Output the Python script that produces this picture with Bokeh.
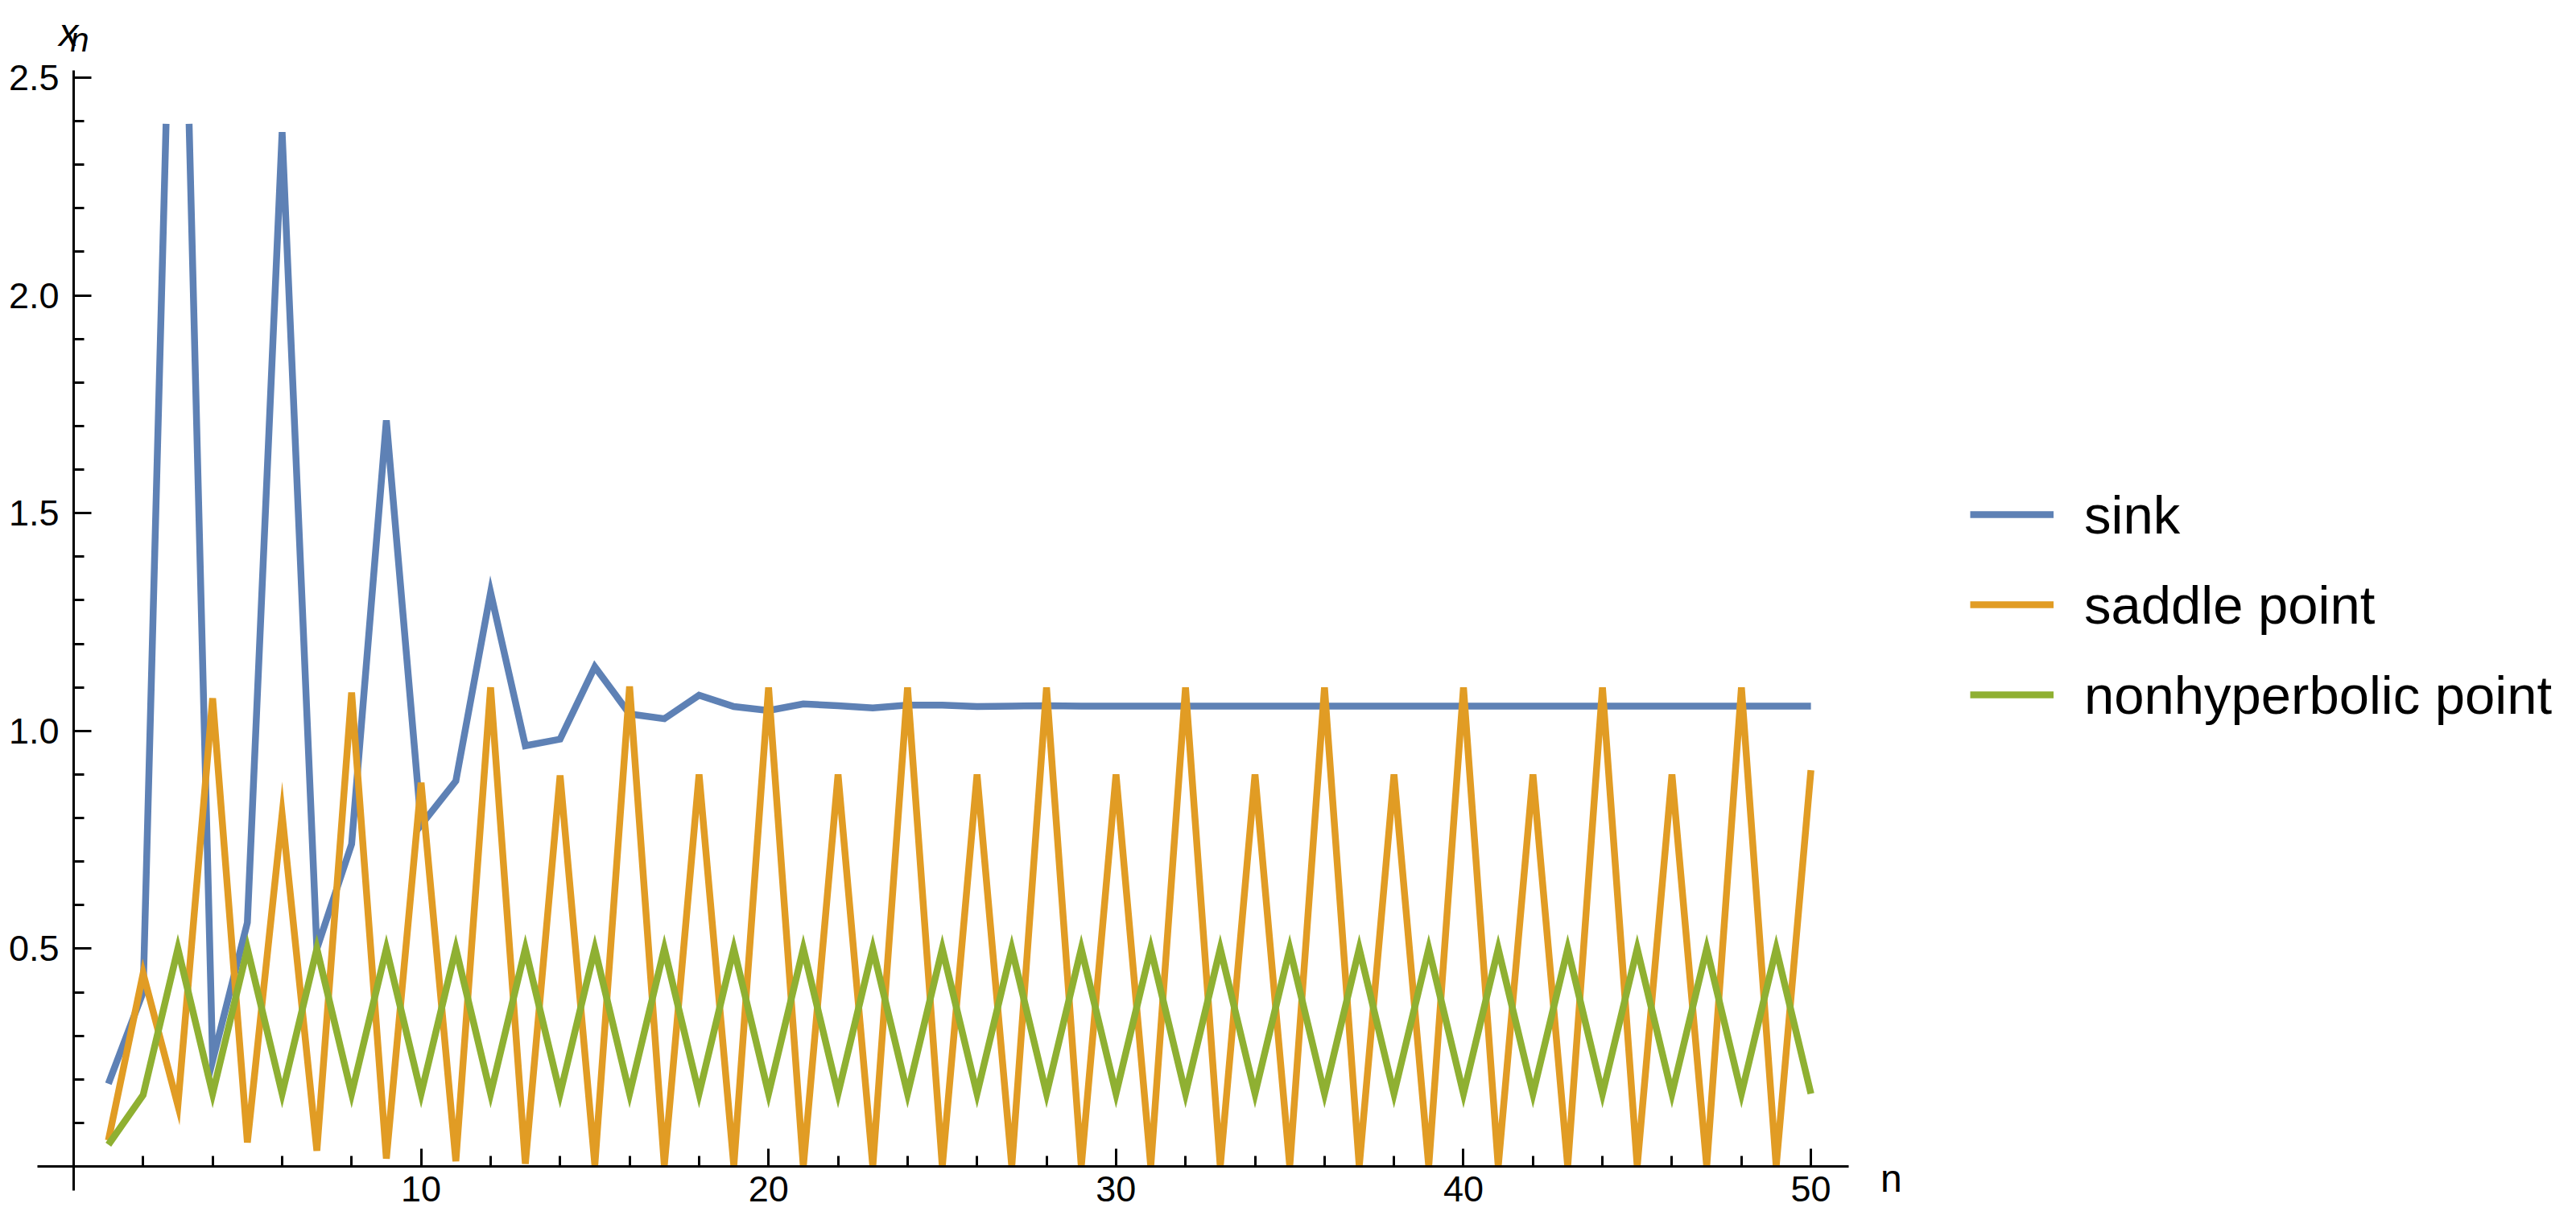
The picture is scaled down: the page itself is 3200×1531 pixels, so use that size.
import math
from bokeh.plotting import figure
from bokeh.models import (LinearAxis, FixedTicker, PrintfTickFormatter, Legend,
                          LegendItem, Range1d, Label)
from bokeh.embed import file_html
from bokeh.resources import INLINE

# ---------------- data ----------------
n_values = list(range(1, 51))

sink = [0.19, 0.40, 3.42, 0.243, 0.56, 2.375, 0.50, 0.74, 1.713, 0.784,
        0.885, 1.318, 0.966, 0.981, 1.147, 1.039, 1.028, 1.082, 1.056, 1.047,
        1.062, 1.058, 1.053, 1.059, 1.059, 1.056, 1.057, 1.058, 1.057, 1.057,
        1.057, 1.057, 1.057, 1.057, 1.057, 1.057, 1.057, 1.057, 1.057, 1.057,
        1.057, 1.057, 1.057, 1.057, 1.057, 1.057, 1.057, 1.057, 1.057, 1.057]

saddle_point = [0.06, 0.443, 0.14, 1.075, 0.055, 0.808, 0.036, 1.088, 0.018, 0.881,
                0.012, 1.10, 0.006, 0.898, 0.003, 1.102, 0.002, 0.90, 0.001, 1.10,
                0.0, 0.90, 0.0, 1.10, 0.0, 0.90, 0.0, 1.10, 0.0, 0.90,
                0.0, 1.10, 0.0, 0.90, 0.0, 1.10, 0.0, 0.90, 0.0, 1.10,
                0.0, 0.90, 0.0, 1.10, 0.0, 0.90, 0.0, 1.10, 0.0, 0.91]

nonhyperbolic_point = [0.05, 0.164, 0.5, 0.167, 0.5, 0.167, 0.5, 0.167, 0.5, 0.167,
                       0.5, 0.167, 0.5, 0.167, 0.5, 0.167, 0.5, 0.167, 0.5, 0.167,
                       0.5, 0.167, 0.5, 0.167, 0.5, 0.167, 0.5, 0.167, 0.5, 0.167,
                       0.5, 0.167, 0.5, 0.167, 0.5, 0.167, 0.5, 0.167, 0.5, 0.167,
                       0.5, 0.167, 0.5, 0.167, 0.5, 0.167, 0.5, 0.167, 0.5, 0.167]

series_labels = ["sink", "saddle point", "nonhyperbolic point"]
series_colors = ["#5E81B5", "#E19C24", "#8FB032"]

x_major_ticks = [10, 20, 30, 40, 50]
x_minor_ticks = [2, 4, 6, 8, 12, 14, 16, 18, 22, 24, 26, 28, 32, 34, 36, 38,
                 42, 44, 46, 48]
y_major_ticks = [0.5, 1.0, 1.5, 2.0, 2.5]
y_minor_ticks = [0.1, 0.2, 0.3, 0.4, 0.6, 0.7, 0.8, 0.9, 1.1, 1.2, 1.3, 1.4,
                 1.6, 1.7, 1.8, 1.9, 2.1, 2.2, 2.3, 2.4]

# plot range (values above the top are cut off) and axis extents
PLOT_RANGE_TOP = 2.394
X_AXIS_EXTENT = (-1.04, 51.09)
Y_AXIS_EXTENT = (-0.055, 2.517)


def clip_top(xs, ys, top):
    """Cut a polyline at y = top (like the plot range clipping)."""
    ox, oy = [], []
    for i, (x, y) in enumerate(zip(xs, ys)):
        if i > 0:
            x0, y0 = xs[i - 1], ys[i - 1]
            if (y0 <= top) != (y <= top):
                t = (top - y0) / (y - y0)
                xc = x0 + t * (x - x0)
                if y0 <= top:
                    ox += [xc, math.nan]
                    oy += [top, math.nan]
                else:
                    ox.append(xc)
                    oy.append(top)
        if y <= top:
            ox.append(x)
            oy.append(y)
    return ox, oy


FONT = "Liberation Sans"

# the frame fills the whole canvas; axes cross at the origin
p = figure(width=3184, height=1515, output_backend="svg", toolbar_location=None,
           x_axis_location=None, y_axis_location=None,
           x_range=Range1d(-2.108, 71.66), y_range=Range1d(-0.12195, 2.6774),
           min_border_left=0, min_border_right=0, min_border_top=0,
           min_border_bottom=0)
p.outline_line_color = None
p.background_fill_color = "white"
p.border_fill_color = "white"
for g in p.grid:
    g.visible = False

renderers = []
for ys, col in zip([sink, saddle_point, nonhyperbolic_point], series_colors):
    cx, cy = clip_top(n_values, ys, PLOT_RANGE_TOP)
    r = p.line(cx, cy, line_color=col, line_width=8.5, line_join="miter")
    renderers.append(r)

xaxis = LinearAxis(fixed_location=0, bounds=X_AXIS_EXTENT,
                   ticker=FixedTicker(ticks=x_major_ticks, minor_ticks=x_minor_ticks))
yaxis = LinearAxis(fixed_location=0, bounds=Y_AXIS_EXTENT,
                   ticker=FixedTicker(ticks=y_major_ticks, minor_ticks=y_minor_ticks),
                   formatter=PrintfTickFormatter(format="%.1f"))
for ax in (xaxis, yaxis):
    ax.axis_line_width = 3
    ax.axis_line_color = "black"
    ax.major_tick_line_width = 3
    ax.minor_tick_line_width = 3
    ax.major_tick_line_color = "black"
    ax.minor_tick_line_color = "black"
    ax.major_tick_in = 22
    ax.major_tick_out = 0
    ax.minor_tick_in = 13
    ax.minor_tick_out = 0
    ax.major_label_text_font = FONT
    ax.major_label_text_font_size = "45px"
    ax.major_label_text_color = "black"
xaxis.major_label_standoff = 12
yaxis.major_label_standoff = 18
p.add_layout(xaxis, "below")
p.add_layout(yaxis, "left")

# axis labels (Mathematica style: x_n at the top, n at the right end)
p.add_layout(Label(x=-0.42, y=2.6035, text="x", text_font=FONT,
                   text_font_style="italic", text_font_size="48px",
                   text_baseline="alphabetic", text_color="black"))
p.add_layout(Label(x=-0.10, y=2.587, text="n", text_font=FONT,
                   text_font_style="italic", text_font_size="42px",
                   text_baseline="alphabetic", text_color="black"))
p.add_layout(Label(x=52.0, y=-0.0277, text="n", text_font=FONT,
                   text_font_size="48px", text_baseline="alphabetic",
                   text_color="black"))

legend = Legend(items=[LegendItem(label=lab, renderers=[r])
                       for lab, r in zip(series_labels, renderers)],
                location=(2447, 602), padding=0, margin=0, spacing=12,
                glyph_width=104, glyph_height=100, label_standoff=38,
                label_text_font=FONT, label_text_font_size="67px",
                label_text_color="black",
                border_line_alpha=0, background_fill_alpha=0)
p.add_layout(legend, "center")

open("out.html", "w").write(file_html(p, INLINE))
